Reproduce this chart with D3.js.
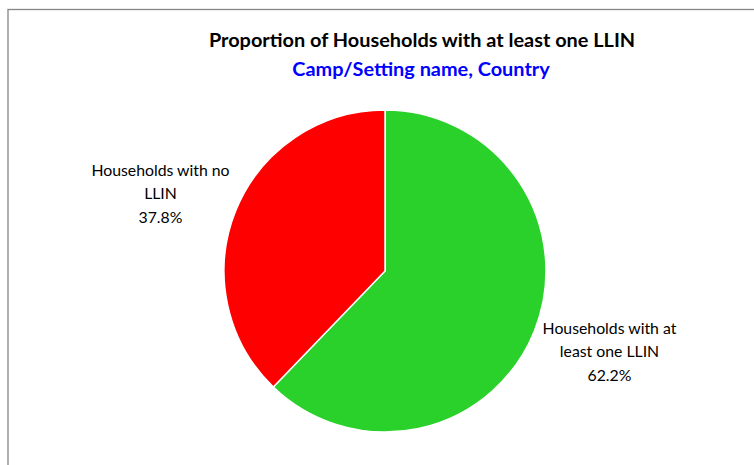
<!DOCTYPE html>
<html><head><meta charset="utf-8">
<script src="https://cdn.jsdelivr.net/npm/d3@7"></script>
<style>html,body{margin:0;padding:0;background:#fff;}svg{display:block;}</style>
</head><body>
<svg id="chart" width="754" height="465"></svg>
<script>
const categories = ["Households with at least one LLIN", "Households with no LLIN"];
const values = [62.2, 37.8];
const colors = ["#2ad12a", "#ff0000"];
const labelLines = [["Households with at", "least one LLIN", "62.2%"], ["Households with no", "LLIN", "37.8%"]];
const title = "Proportion of Households with at least one LLIN";
const subtitle = "Camp/Setting name, Country";

const svg = d3.select("#chart");
svg.append("rect").attr("x", 8).attr("y", 9.5).attr("width", 800).attr("height", 500)
  .attr("fill", "#fff").attr("stroke", "#868686").attr("stroke-width", 1.3);

const font = "Lato, 'Open Sans', sans-serif";
svg.append("text").attr("x", 422).attr("y", 47).attr("text-anchor", "middle")
  .attr("font-family", font).attr("font-weight", "bold").attr("font-size", 19.9).attr("fill", "#000").text(title);
svg.append("text").attr("x", 421).attr("y", 76).attr("text-anchor", "middle")
  .attr("font-family", font).attr("font-weight", "bold").attr("font-size", 19.9).attr("fill", "#0000ff").text(subtitle);

const cx = 385, cy = 271, r = 161;
const pie = d3.pie().sort(null).value(d => d);
const arcs = pie(values);
const arc = d3.arc().innerRadius(0).outerRadius(r);
const g = svg.append("g").attr("transform", `translate(${cx},${cy})`);
g.selectAll("path").data(arcs).join("path")
  .attr("d", arc).attr("fill", (d, i) => colors[i]).attr("stroke", "#fff").attr("stroke-width", 1.5);

const labelPos = [[609.5, 333.5], [160.5, 175.5]];
labelLines.forEach((lines, i) => {
  const t = svg.append("text").attr("text-anchor", "middle").attr("font-family", font)
    .attr("font-size", 15.8).attr("fill", "#000");
  lines.forEach((ln, j) => {
    t.append("tspan").attr("x", labelPos[i][0]).attr("y", labelPos[i][1] + j * 23.5).text(ln);
  });
});
</script>
</body></html>
